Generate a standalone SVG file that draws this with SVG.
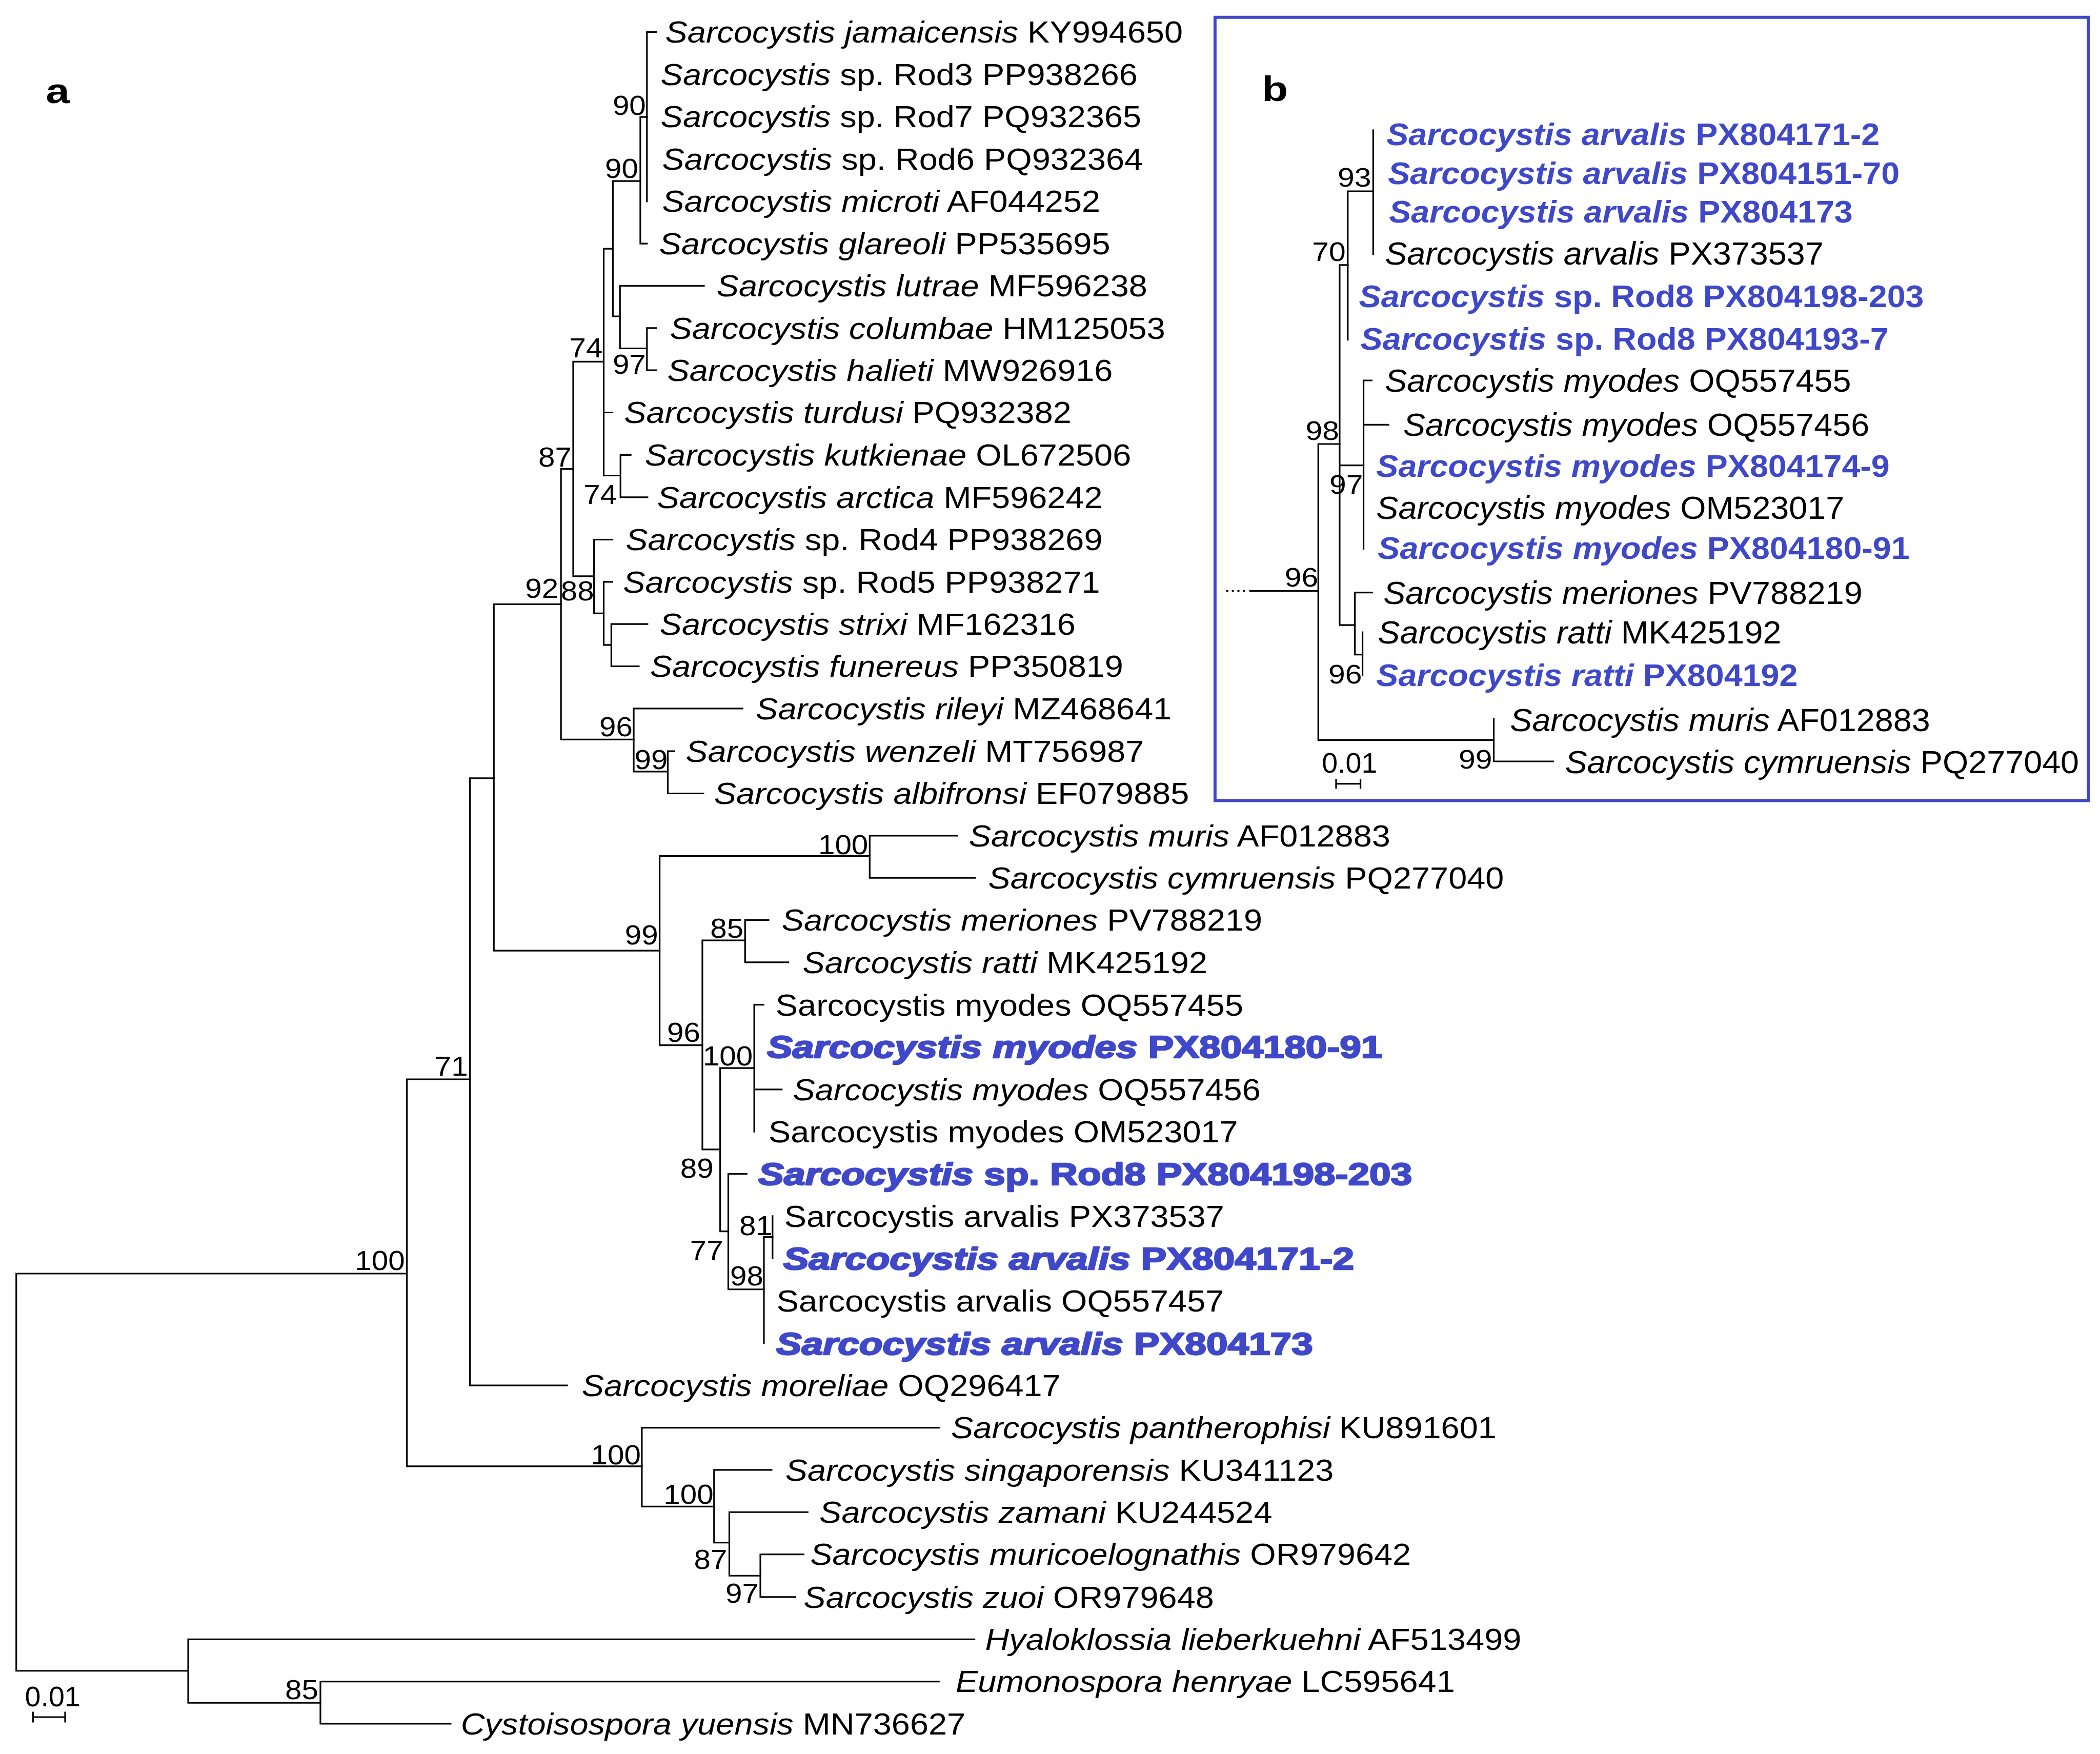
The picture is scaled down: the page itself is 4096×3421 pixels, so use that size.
<svg xmlns="http://www.w3.org/2000/svg" width="4096" height="3421" viewBox="0 0 4096 3421">
<style>
text{font-family:"Liberation Sans",Arial,Helvetica,sans-serif;fill:#000}
.la{font-size:60px}
.lb{font-size:61px;font-weight:bold;fill:#3f48c9;stroke:#3f48c9;stroke-width:2.6px;stroke-linejoin:round}
.bs{font-size:55px}
.rb{font-size:63px}
.rbb{font-size:62px;font-weight:bold;fill:#3f48c9}
.bsb{font-size:53px}
.sc{font-size:56px}
.pl{font-size:70px;font-weight:bold}
.i{font-style:italic}
.br path{fill:none;stroke:#000;stroke-width:3.2;stroke-linecap:square}
.box{fill:none;stroke:#3f48c9;stroke-width:6}
</style>
<rect x="0" y="0" width="4096" height="3421" fill="#fff"/>
<g transform="scale(0.992)">
<g id="panel-labels">
<text class="pl" transform="matrix(1.2 0 0 1 90 203)">a</text>
<text class="pl" transform="matrix(1.2 0 0 1 2481 199)">b</text>
</g>
<rect id="panel-b-frame" class="box" x="2389" y="34" width="1717" height="1540"/>

<g id="connectors" class="br">
<path d="M32 2504V3285M32 2504H800M32 3285H370"/>
<path d="M800 2122V2883M800 2122H924M800 2883H1262"/>
<path d="M924 1530V2724M924 2724H1115M924 1530H971"/>
<path d="M971 1188V1869M971 1188H1103M971 1869H1297"/>
<path d="M1103 922V1454M1103 922H1127M1103 1454H1246"/>
<path d="M1127 711V1133M1127 711H1187M1127 1133H1168"/>
<path d="M1187 489V935M1187 489H1205M1187 811H1204M1187 935H1220"/>
<path d="M1205 356V622M1205 356H1259M1205 622H1219"/>
<path d="M1259 230V479M1259 230H1272M1259 479H1272"/>
<path d="M1272 63V396M1272 63H1290"/>
<path d="M1219 562V685M1219 562H1384M1219 685H1272"/>
<path d="M1272 645V728M1272 645H1290M1272 728H1290"/>
<path d="M1220 894.5V977.7M1220 894.5H1240M1220 977.7H1273"/>
<path d="M1168 1061V1206M1168 1061H1204M1168 1206H1187"/>
<path d="M1187 1144V1268M1187 1144H1204M1187 1268H1202"/>
<path d="M1202 1227V1310M1202 1227H1273M1202 1310H1256"/>
<path d="M1246 1393V1517M1246 1393H1460M1246 1517H1313"/>
<path d="M1313 1477V1560M1313 1477H1326M1313 1560H1383"/>
<path d="M1297 1683V2055M1297 1683H1710M1297 2055H1381"/>
<path d="M1710 1643V1726M1710 1643H1882M1710 1726H1917"/>
<path d="M1381 1849V2260M1381 1849H1465M1381 2260H1416"/>
<path d="M1465 1809V1892M1465 1809H1511M1465 1892H1550"/>
<path d="M1416 2100V2421M1416 2100H1483M1416 2421H1432"/>
<path d="M1483 1975.5V2225M1483 1975.5H1501M1483 2142H1537"/>
<path d="M1432 2308V2535M1432 2308H1468M1432 2535H1502"/>
<path d="M1502 2432V2641M1502 2432H1519"/>
<path d="M1519 2391V2474"/>
<path d="M1262 2807V2962M1262 2807H1846M1262 2962H1404"/>
<path d="M1404 2890V3033M1404 2890H1517M1404 3033H1434"/>
<path d="M1434 2973V3098M1434 2973H1588M1434 3098H1495"/>
<path d="M1495 3056V3140M1495 3056H1580M1495 3140H1564"/>
<path d="M370 3223V3348M370 3223H1916M370 3348H630"/>
<path d="M630 3306V3389M630 3306H1846M630 3389H886"/>
<path d="M65 3376H128M65 3367V3385M128 3367V3385"/>
<path d="M2411 1162H2453" style="stroke-dasharray:4 7;stroke-linecap:butt"/>
<path d="M2458 1162H2592"/>
<path d="M2592 873V1455M2592 873H2634M2592 1455H2937"/>
<path d="M2634 521V1229M2634 521H2650M2634 915H2681M2634 1229H2664"/>
<path d="M2650 376V668M2650 376H2700"/>
<path d="M2700 256V500"/>
<path d="M2681 748V1079M2681 748H2697M2681 835H2730"/>
<path d="M2664 1165V1287M2664 1165H2698M2664 1287H2679"/>
<path d="M2679 1243V1327"/>
<path d="M2937 1413V1497M2937 1497H3054"/>
<path d="M2627 1541H2675M2627 1533V1549M2675 1533V1549"/>
</g>

<g id="scale-bars">
<text class="sc" x="49" y="3355">0.01</text>
<text class="sc" x="2599" y="1519">0.01</text>
</g>

<g id="support-a" text-anchor="end">
<text class="bs" transform="matrix(1.07 0 0 1 1270 226)">90</text>
<text class="bs" transform="matrix(1.07 0 0 1 1255 350)">90</text>
<text class="bs" transform="matrix(1.07 0 0 1 1185 703)">74</text>
<text class="bs" transform="matrix(1.07 0 0 1 1270 735)">97</text>
<text class="bs" transform="matrix(1.07 0 0 1 1124 917)">87</text>
<text class="bs" transform="matrix(1.07 0 0 1 1213 991)">74</text>
<text class="bs" transform="matrix(1.07 0 0 1 1098 1175)">92</text>
<text class="bs" transform="matrix(1.07 0 0 1 1168 1180)">88</text>
<text class="bs" transform="matrix(1.07 0 0 1 1244 1448)">96</text>
<text class="bs" transform="matrix(1.07 0 0 1 1313 1512)">99</text>
<text class="bs" transform="matrix(1.07 0 0 1 1707 1679)">100</text>
<text class="bs" transform="matrix(1.07 0 0 1 1294 1857)">99</text>
<text class="bs" transform="matrix(1.07 0 0 1 1462 1844)">85</text>
<text class="bs" transform="matrix(1.07 0 0 1 1377 2048)">96</text>
<text class="bs" transform="matrix(1.07 0 0 1 1480 2095)">100</text>
<text class="bs" transform="matrix(1.07 0 0 1 1403 2316)">89</text>
<text class="bs" transform="matrix(1.07 0 0 1 1422 2477)">77</text>
<text class="bs" transform="matrix(1.07 0 0 1 1519 2428)">81</text>
<text class="bs" transform="matrix(1.07 0 0 1 1501 2527)">98</text>
<text class="bs" transform="matrix(1.07 0 0 1 920 2115)">71</text>
<text class="bs" transform="matrix(1.07 0 0 1 796 2497)">100</text>
<text class="bs" transform="matrix(1.07 0 0 1 1260 2879)">100</text>
<text class="bs" transform="matrix(1.07 0 0 1 1403 2957)">100</text>
<text class="bs" transform="matrix(1.07 0 0 1 1430 3085)">87</text>
<text class="bs" transform="matrix(1.07 0 0 1 1492 3151)">97</text>
<text class="bs" transform="matrix(1.07 0 0 1 626 3341)">85</text>
</g>

<g id="leaves-a">
<g id="a01"><text class="la" transform="matrix(1.09 0 0 1 1308 84)"><tspan class="i">Sarcocystis jamaicensis</tspan> KY994650</text></g>
<g id="a02"><text class="la" transform="matrix(1.09 0 0 1 1299 167)"><tspan class="i">Sarcocystis</tspan> sp. Rod3 PP938266</text></g>
<g id="a03"><text class="la" transform="matrix(1.09 0 0 1 1299 250)"><tspan class="i">Sarcocystis</tspan> sp. Rod7 PQ932365</text></g>
<g id="a04"><text class="la" transform="matrix(1.09 0 0 1 1302 333.5)"><tspan class="i">Sarcocystis</tspan> sp. Rod6 PQ932364</text></g>
<g id="a05"><text class="la" transform="matrix(1.09 0 0 1 1302 416.6)"><tspan class="i">Sarcocystis microti</tspan> AF044252</text></g>
<g id="a06"><text class="la" transform="matrix(1.09 0 0 1 1296 499.8)"><tspan class="i">Sarcocystis glareoli</tspan> PP535695</text></g>
<g id="a07"><text class="la" transform="matrix(1.09 0 0 1 1409 583)"><tspan class="i">Sarcocystis lutrae</tspan> MF596238</text></g>
<g id="a08"><text class="la" transform="matrix(1.09 0 0 1 1317 666)"><tspan class="i">Sarcocystis columbae</tspan> HM125053</text></g>
<g id="a09"><text class="la" transform="matrix(1.09 0 0 1 1312 749)"><tspan class="i">Sarcocystis halieti</tspan> MW926916</text></g>
<g id="a10"><text class="la" transform="matrix(1.09 0 0 1 1227 832)"><tspan class="i">Sarcocystis turdusi</tspan> PQ932382</text></g>
<g id="a11"><text class="la" transform="matrix(1.09 0 0 1 1268 915.5)"><tspan class="i">Sarcocystis kutkienae</tspan> OL672506</text></g>
<g id="a12"><text class="la" transform="matrix(1.09 0 0 1 1292 998.7)"><tspan class="i">Sarcocystis arctica</tspan> MF596242</text></g>
<g id="a13"><text class="la" transform="matrix(1.09 0 0 1 1230 1082)"><tspan class="i">Sarcocystis</tspan> sp. Rod4 PP938269</text></g>
<g id="a14"><text class="la" transform="matrix(1.09 0 0 1 1225 1165)"><tspan class="i">Sarcocystis</tspan> sp. Rod5 PP938271</text></g>
<g id="a15"><text class="la" transform="matrix(1.09 0 0 1 1297 1248)"><tspan class="i">Sarcocystis strixi</tspan> MF162316</text></g>
<g id="a16"><text class="la" transform="matrix(1.09 0 0 1 1278 1331)"><tspan class="i">Sarcocystis funereus</tspan> PP350819</text></g>
<g id="a17"><text class="la" transform="matrix(1.09 0 0 1 1486 1414)"><tspan class="i">Sarcocystis rileyi</tspan> MZ468641</text></g>
<g id="a18"><text class="la" transform="matrix(1.09 0 0 1 1348 1498)"><tspan class="i">Sarcocystis wenzeli</tspan> MT756987</text></g>
<g id="a19"><text class="la" transform="matrix(1.09 0 0 1 1404 1581)"><tspan class="i">Sarcocystis albifronsi</tspan> EF079885</text></g>
<g id="a20"><text class="la" transform="matrix(1.09 0 0 1 1905 1664)"><tspan class="i">Sarcocystis muris</tspan> AF012883</text></g>
<g id="a21"><text class="la" transform="matrix(1.09 0 0 1 1943 1747)"><tspan class="i">Sarcocystis cymruensis</tspan> PQ277040</text></g>
<g id="a22"><text class="la" transform="matrix(1.09 0 0 1 1537 1830)"><tspan class="i">Sarcocystis meriones</tspan> PV788219</text></g>
<g id="a23"><text class="la" transform="matrix(1.09 0 0 1 1578 1913)"><tspan class="i">Sarcocystis ratti</tspan> MK425192</text></g>
<g id="a24"><text class="la" transform="matrix(1.09 0 0 1 1525 1996.5)">Sarcocystis myodes OQ557455</text></g>
<g id="a25"><text class="lb" transform="matrix(1.235 0 0 1 1508 2080)"><tspan class="i">Sarcocystis myodes</tspan> PX804180-91</text></g>
<g id="a26"><text class="la" transform="matrix(1.09 0 0 1 1559 2163)"><tspan class="i">Sarcocystis myodes</tspan> OQ557456</text></g>
<g id="a27"><text class="la" transform="matrix(1.09 0 0 1 1511 2246)">Sarcocystis myodes OM523017</text></g>
<g id="a28"><text class="lb" transform="matrix(1.235 0 0 1 1491 2330)"><tspan class="i">Sarcocystis</tspan> sp. Rod8 PX804198-203</text></g>
<g id="a29"><text class="la" transform="matrix(1.09 0 0 1 1542 2412)">Sarcocystis arvalis PX373537</text></g>
<g id="a30"><text class="lb" transform="matrix(1.235 0 0 1 1540 2496)"><tspan class="i">Sarcocystis arvalis</tspan> PX804171-2</text></g>
<g id="a31"><text class="la" transform="matrix(1.09 0 0 1 1527 2578.5)">Sarcocystis arvalis OQ557457</text></g>
<g id="a32"><text class="lb" transform="matrix(1.235 0 0 1 1526 2663)"><tspan class="i">Sarcocystis arvalis</tspan> PX804173</text></g>
<g id="a33"><text class="la" transform="matrix(1.09 0 0 1 1144 2745)"><tspan class="i">Sarcocystis moreliae</tspan> OQ296417</text></g>
<g id="a34"><text class="la" transform="matrix(1.09 0 0 1 1870 2828)"><tspan class="i">Sarcocystis pantherophisi</tspan> KU891601</text></g>
<g id="a35"><text class="la" transform="matrix(1.09 0 0 1 1544 2911)"><tspan class="i">Sarcocystis singaporensis</tspan> KU341123</text></g>
<g id="a36"><text class="la" transform="matrix(1.09 0 0 1 1611 2994)"><tspan class="i">Sarcocystis zamani</tspan> KU244524</text></g>
<g id="a37"><text class="la" transform="matrix(1.09 0 0 1 1593 3077)"><tspan class="i">Sarcocystis muricoelognathis</tspan> OR979642</text></g>
<g id="a38"><text class="la" transform="matrix(1.09 0 0 1 1580 3161)"><tspan class="i">Sarcocystis zuoi</tspan> OR979648</text></g>
<g id="a39"><text class="la" transform="matrix(1.09 0 0 1 1937 3244)"><tspan class="i">Hyaloklossia lieberkuehni</tspan> AF513499</text></g>
<g id="a40"><text class="la" transform="matrix(1.09 0 0 1 1879 3327)"><tspan class="i">Eumonospora henryae</tspan> LC595641</text></g>
<g id="a41"><text class="la" transform="matrix(1.09 0 0 1 906 3410)"><tspan class="i">Cystoisospora yuensis</tspan> MN736627</text></g>
</g>

<g id="support-b" text-anchor="end">
<text class="bsb" transform="matrix(1.12 0 0 1 2696 367)">93</text>
<text class="bsb" transform="matrix(1.12 0 0 1 2646 513)">70</text>
<text class="bsb" transform="matrix(1.12 0 0 1 2633 865)">98</text>
<text class="bsb" transform="matrix(1.12 0 0 1 2680 971)">97</text>
<text class="bsb" transform="matrix(1.12 0 0 1 2592 1153)">96</text>
<text class="bsb" transform="matrix(1.12 0 0 1 2678 1344)">96</text>
<text class="bsb" transform="matrix(1.12 0 0 1 2934 1511)">99</text>
</g>

<g id="leaves-b">
<g id="b01"><text class="rbb" transform="matrix(1.05 0 0 1 2726 285)"><tspan class="i">Sarcocystis arvalis</tspan> PX804171-2</text></g>
<g id="b02"><text class="rbb" transform="matrix(1.05 0 0 1 2729 362)"><tspan class="i">Sarcocystis arvalis</tspan> PX804151-70</text></g>
<g id="b03"><text class="rbb" transform="matrix(1.05 0 0 1 2731 438)"><tspan class="i">Sarcocystis arvalis</tspan> PX804173</text></g>
<g id="b04"><text class="rb" transform="matrix(1.035 0 0 1 2723 520)"><tspan class="i">Sarcocystis arvalis</tspan> PX373537</text></g>
<g id="b05"><text class="rbb" transform="matrix(1.05 0 0 1 2672 604)"><tspan class="i">Sarcocystis</tspan> sp. Rod8 PX804198-203</text></g>
<g id="b06"><text class="rbb" transform="matrix(1.05 0 0 1 2675 688)"><tspan class="i">Sarcocystis</tspan> sp. Rod8 PX804193-7</text></g>
<g id="b07"><text class="rb" transform="matrix(1.035 0 0 1 2723 770)"><tspan class="i">Sarcocystis myodes</tspan> OQ557455</text></g>
<g id="b08"><text class="rb" transform="matrix(1.035 0 0 1 2759 857)"><tspan class="i">Sarcocystis myodes</tspan> OQ557456</text></g>
<g id="b09"><text class="rbb" transform="matrix(1.05 0 0 1 2706 938)"><tspan class="i">Sarcocystis myodes</tspan> PX804174-9</text></g>
<g id="b10"><text class="rb" transform="matrix(1.035 0 0 1 2706 1020)"><tspan class="i">Sarcocystis myodes</tspan> OM523017</text></g>
<g id="b11"><text class="rbb" transform="matrix(1.05 0 0 1 2709 1099)"><tspan class="i">Sarcocystis myodes</tspan> PX804180-91</text></g>
<g id="b12"><text class="rb" transform="matrix(1.035 0 0 1 2720 1188)"><tspan class="i">Sarcocystis meriones</tspan> PV788219</text></g>
<g id="b13"><text class="rb" transform="matrix(1.035 0 0 1 2709 1265)"><tspan class="i">Sarcocystis ratti</tspan> MK425192</text></g>
<g id="b14"><text class="rbb" transform="matrix(1.05 0 0 1 2706 1349)"><tspan class="i">Sarcocystis ratti</tspan> PX804192</text></g>
<g id="b15"><text class="rb" transform="matrix(1.035 0 0 1 2969 1438)"><tspan class="i">Sarcocystis muris</tspan> AF012883</text></g>
<g id="b16"><text class="rb" transform="matrix(1.035 0 0 1 3077 1520)"><tspan class="i">Sarcocystis cymruensis</tspan> PQ277040</text></g>
</g>
</g>
</svg>
